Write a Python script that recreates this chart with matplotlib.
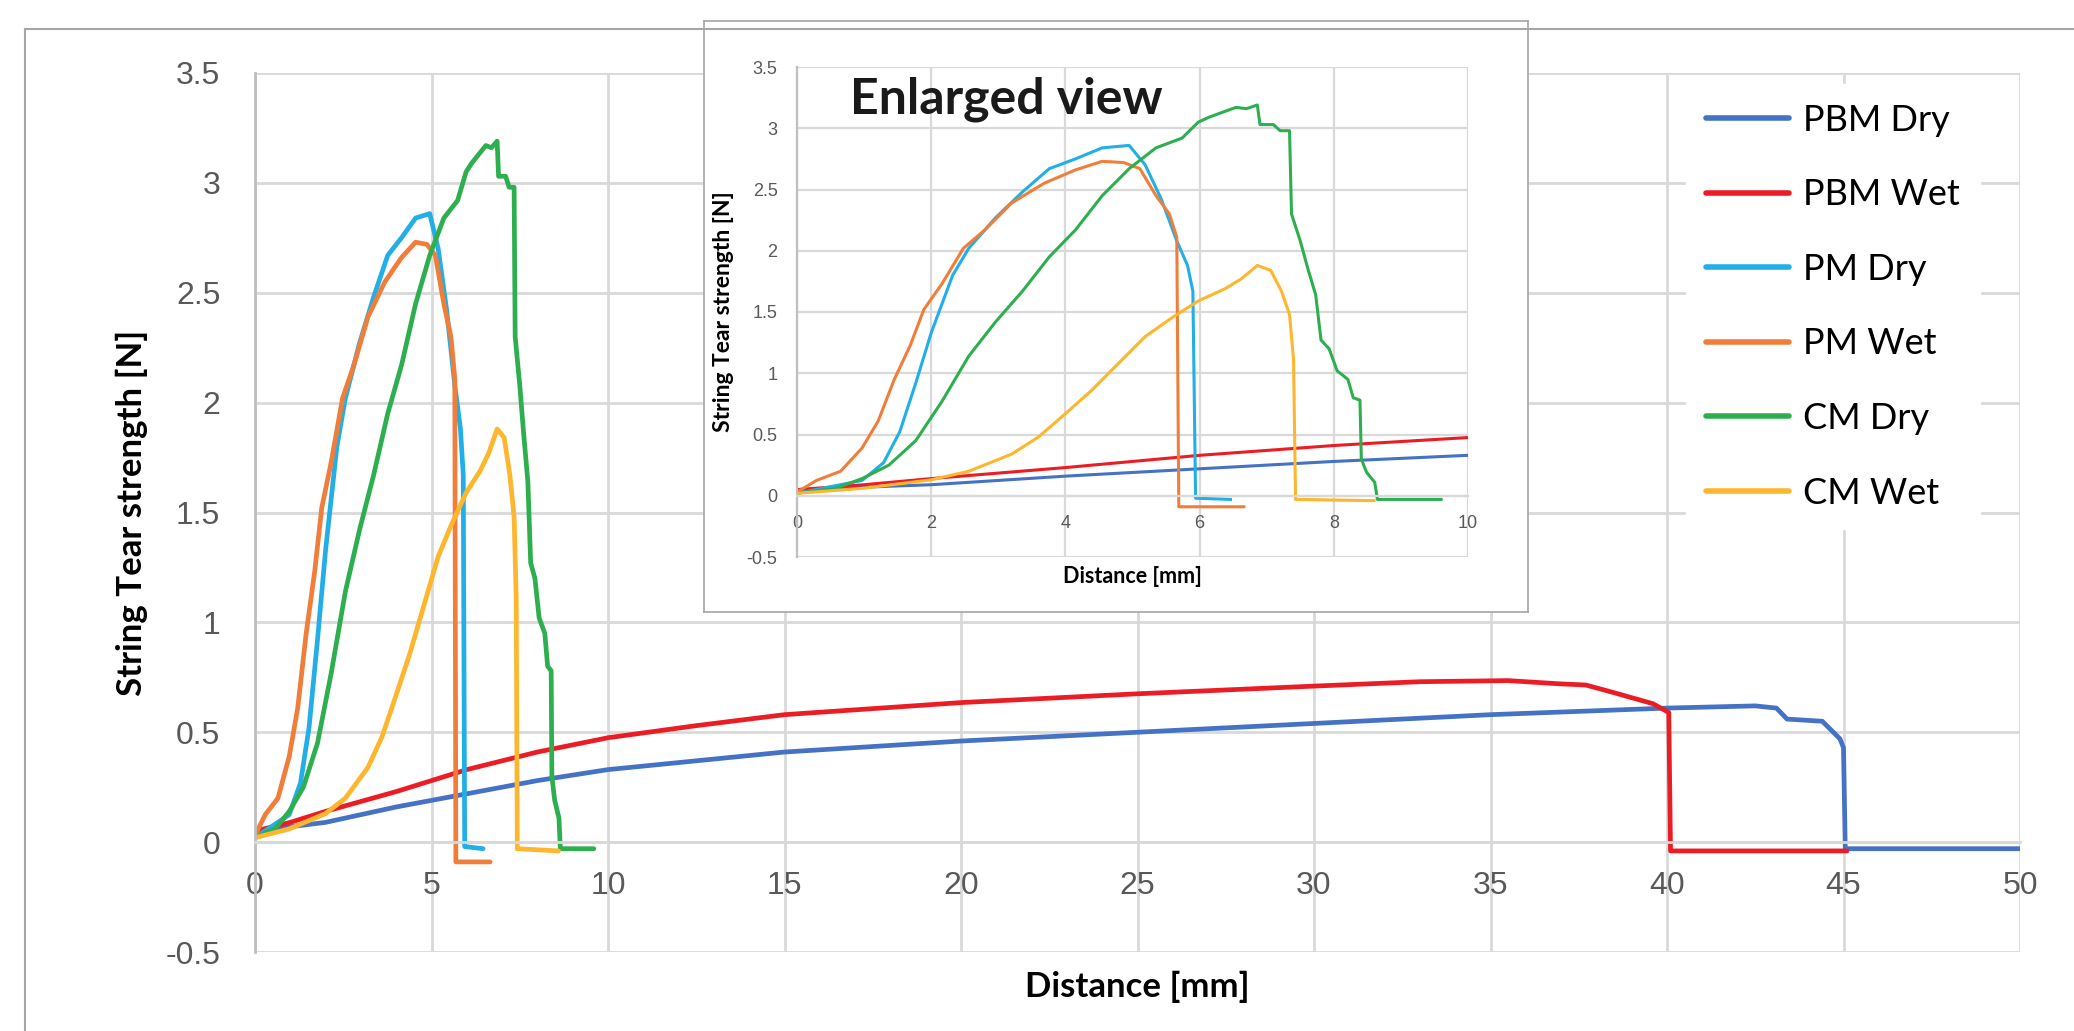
import numpy as np
import matplotlib
import matplotlib.pyplot as plt
from matplotlib.lines import Line2D

matplotlib.use('Agg')

# ---- data ----
names = ["PBM Dry", "PBM Wet", "PM Dry", "PM Wet", "CM Dry", "CM Wet"]
colors = ["#4472C4", "#EC1C24", "#22AEE6", "#F07E3A", "#2EAF4F", "#FDB62D"]

pbm_dry_x = [0, 1, 2, 4, 6, 8, 10, 12.5, 15, 20, 25, 30, 35, 40, 42.5, 43.1, 43.4, 44.4, 44.9, 45.0, 45.05, 50]
pbm_dry_y = [0.05, 0.07, 0.09, 0.16, 0.22, 0.28, 0.33, 0.37, 0.41, 0.46, 0.50, 0.54, 0.58, 0.61, 0.62, 0.61, 0.56, 0.55, 0.47, 0.43, -0.03, -0.03]

pbm_wet_x = [0, 1, 2, 4, 6, 8, 10, 12.5, 15, 20, 25, 30, 33, 35.5, 37, 37.7, 38.5, 39.6, 40.05, 40.1, 45.1]
pbm_wet_y = [0.05, 0.09, 0.14, 0.23, 0.33, 0.41, 0.475, 0.53, 0.58, 0.635, 0.675, 0.71, 0.73, 0.735, 0.72, 0.715, 0.68, 0.63, 0.59, -0.04, -0.04]

pm_dry_x = [0, 0.97, 1.29, 1.53, 1.77, 2.0, 2.32, 2.56, 2.96, 3.36, 3.76, 4.15, 4.55, 4.95, 5.19, 5.43, 5.66, 5.82, 5.90, 5.94, 6.46]
pm_dry_y = [0.02, 0.125, 0.27, 0.52, 0.92, 1.33, 1.80, 2.02, 2.27, 2.48, 2.67, 2.75, 2.84, 2.86, 2.70, 2.42, 2.08, 1.88, 1.67, -0.02, -0.03]

pm_wet_x = [0, 0.29, 0.65, 0.97, 1.21, 1.45, 1.69, 1.89, 2.16, 2.48, 2.8, 3.2, 3.68, 4.15, 4.55, 4.87, 5.11, 5.35, 5.55, 5.66, 5.69, 6.66]
pm_wet_y = [0.03, 0.125, 0.20, 0.39, 0.61, 0.95, 1.23, 1.52, 1.73, 2.02, 2.17, 2.39, 2.55, 2.66, 2.73, 2.72, 2.67, 2.45, 2.30, 2.11, -0.09, -0.09]

cm_dry_x = [0, 0.57, 0.97, 1.37, 1.77, 2.16, 2.56, 2.96, 3.36, 3.76, 4.15, 4.55, 4.95, 5.35, 5.74, 5.98, 6.14,
            6.54, 6.7, 6.86, 6.9, 7.1, 7.2, 7.34, 7.37, 7.5, 7.61, 7.73, 7.81, 7.93, 8.05, 8.21, 8.29, 8.39,
            8.41, 8.49, 8.61, 8.65, 9.6]
cm_dry_y = [0.02, 0.06, 0.14, 0.25, 0.45, 0.77, 1.14, 1.42, 1.67, 1.95, 2.17, 2.45, 2.67, 2.84, 2.92, 3.05, 3.09,
            3.17, 3.16, 3.19, 3.03, 3.03, 2.98, 2.98, 2.30, 2.08, 1.86, 1.64, 1.27, 1.20, 1.02, 0.95, 0.80, 0.78,
            0.30, 0.19, 0.11, -0.03, -0.03]

cm_wet_x = [0, 0.97, 2.0, 2.56, 3.2, 3.6, 4.0, 4.39, 4.79, 5.19, 5.58, 5.98, 6.38, 6.62, 6.86, 7.06, 7.22, 7.34, 7.4, 7.43, 8.6]
cm_wet_y = [0.02, 0.06, 0.13, 0.20, 0.34, 0.48, 0.67, 0.86, 1.08, 1.30, 1.45, 1.59, 1.69, 1.77, 1.88, 1.84, 1.67, 1.48, 1.11, -0.03, -0.04]

series_x = [pbm_dry_x, pbm_wet_x, pm_dry_x, pm_wet_x, cm_dry_x, cm_wet_x]
series_y = [pbm_dry_y, pbm_wet_y, pm_dry_y, pm_wet_y, cm_dry_y, cm_wet_y]

yticks = [-0.5, 0, 0.5, 1, 1.5, 2, 2.5, 3, 3.5]
ytick_labels = ["-0.5", "0", "0.5", "1", "1.5", "2", "2.5", "3", "3.5"]
main_xticks = [0, 5, 10, 15, 20, 25, 30, 35, 40, 45, 50]
inset_xticks = [0, 2, 4, 6, 8, 10]

W, H = 2074, 1031
GRID = "#D9D9D9"
TICK = "#595959"
TICKFONT = "Liberation Sans"
BOLDFONT = "Lato"


def px_box(x0, y0, x1, y1):
    # pixel box (top-left origin) -> figure fraction rect
    return [x0 / W, 1 - y1 / H, (x1 - x0) / W, (y1 - y0) / H]


def style_axes(ax, xticks, grid_lw, tick_size, xpad, ypad):
    ax.set_ylim(-0.5, 3.5)
    ax.set_yticks(yticks)
    ax.set_yticklabels(ytick_labels)
    ax.set_xticks(xticks)
    ax.set_xticklabels([str(t) for t in xticks])
    ax.grid(True, color=GRID, linewidth=grid_lw, zorder=0)
    ax.set_axisbelow(True)
    for s in ["top", "right"]:
        ax.spines[s].set_visible(False)
    ax.spines["left"].set_color("#BFBFBF")
    ax.spines["left"].set_linewidth(grid_lw)
    ax.spines["bottom"].set_position(("data", 0))
    ax.spines["bottom"].set_color(GRID)
    ax.spines["bottom"].set_linewidth(grid_lw)
    ax.tick_params(length=0, colors=TICK, labelsize=tick_size)
    ax.tick_params(axis="x", pad=xpad)
    ax.tick_params(axis="y", pad=ypad)
    for lab in ax.get_xticklabels() + ax.get_yticklabels():
        lab.set_family(TICKFONT)


fig = plt.figure(figsize=(W / 100, H / 100), dpi=100)

# outer chart frame (left and top edges visible)
fig.add_artist(Line2D([25 / W, 25 / W], [0, 1 - 29 / H], color="#A6A6A6", linewidth=1.5))
fig.add_artist(Line2D([25 / W, 1], [1 - 29 / H, 1 - 29 / H], color="#A6A6A6", linewidth=1.5))

# main chart
ax = fig.add_axes(px_box(255, 73, 2020, 952))
for x, y, c, n in zip(series_x, series_y, colors, names):
    ax.plot(x, y, color=c, linewidth=3.4, label=n, solid_capstyle="round")
ax.set_xlim(0, 50)
style_axes(ax, main_xticks, 2.0, 23, 21, 25)
ax.set_xlabel("Distance [mm]", family=BOLDFONT, fontweight="bold", fontsize=25)
ax.xaxis.set_label_coords(0.5, -0.0398)
ax.xaxis.label.set_va("center")
ax.set_ylabel("String Tear strength [N]", family=BOLDFONT, fontweight="bold", fontsize=25)
ax.yaxis.set_label_coords(-0.0697, 0.5)
ax.yaxis.label.set_va("center")

leg = ax.legend(loc="upper left", bbox_to_anchor=(1686 / W, 1 - 84 / H), bbox_transform=fig.transFigure,
                frameon=True, fancybox=False, edgecolor="white", facecolor="white", framealpha=1,
                prop={"family": BOLDFONT, "size": 26}, handlelength=2.3, handletextpad=0.4,
                labelspacing=1.15, borderpad=0.55, borderaxespad=0)
for line in leg.get_lines():
    line.set_linewidth(4)

# inset "enlarged view" panel
box = fig.add_axes(px_box(704, 21, 1528, 612))
box.set_xticks([])
box.set_yticks([])
for s in box.spines.values():
    s.set_color("#A6A6A6")
    s.set_linewidth(1.2)

ins = fig.add_axes(px_box(797, 67, 1468, 557))
for x, y, c in zip(series_x, series_y, colors):
    ins.plot(x, y, color=c, linewidth=2.2)
ins.set_xlim(0, 10)
style_axes(ins, inset_xticks, 1.6, 13, 14, 14)
ins.set_xlabel("Distance [mm]", family=BOLDFONT, fontweight="bold", fontsize=15.5)
ins.xaxis.set_label_coords(0.5, -0.0408)
ins.xaxis.label.set_va("center")
ins.set_ylabel("String Tear strength [N]", family=BOLDFONT, fontweight="bold", fontsize=16.5)
ins.yaxis.set_label_coords(-0.1088, 0.5)
ins.yaxis.label.set_va("center")
ins.text(0.079, 0.906, "Enlarged view", transform=ins.transAxes, family=BOLDFONT, fontweight="bold",
         fontsize=36, color="#1A1A1A", va="baseline", ha="left")

fig.savefig("out.png", dpi=100)
